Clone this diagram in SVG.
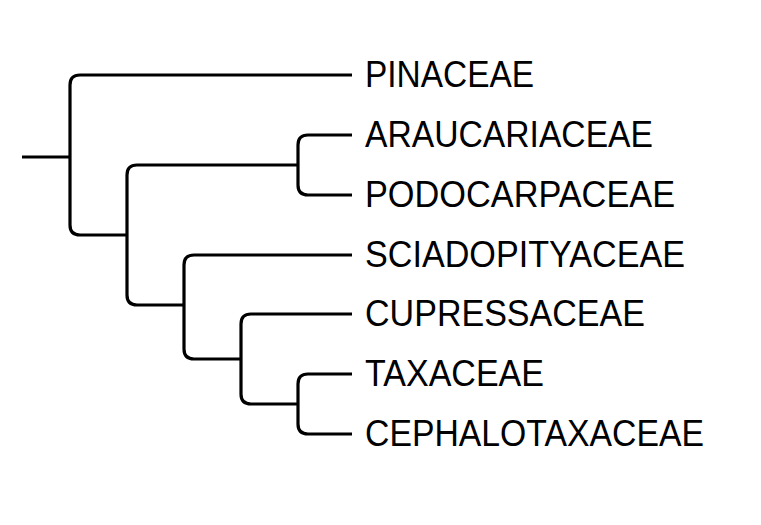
<svg xmlns="http://www.w3.org/2000/svg" width="761" height="525" viewBox="0 0 761 525">
<style>
.e{fill:none;stroke:#000;stroke-width:3.2;stroke-linecap:butt;stroke-linejoin:round}
.t{font-family:"Liberation Sans",Arial,sans-serif;font-size:36px;fill:#000}
</style>
<rect width="761" height="525" fill="#fff"/>
<g id="connectors">
<path class="e" d="M22 157H70"/>
<path class="e" d="M352 75H80Q70 75 70 85V225Q70 235 80 235H127"/>
<path class="e" d="M298 165H137Q127 165 127 175V295Q127 305 137 305H184"/>
<path class="e" d="M352 135H308Q298 135 298 145V185Q298 195 308 195H352"/>
<path class="e" d="M352 255H194Q184 255 184 265V349Q184 359 194 359H241"/>
<path class="e" d="M352 314H251Q241 314 241 324V394Q241 404 251 404H298"/>
<path class="e" d="M352 374H308Q298 374 298 384V424Q298 434 308 434H352"/>
</g>
<g id="pinaceae"><text class="t" x="365" y="86.5" textLength="169" lengthAdjust="spacingAndGlyphs">PINACEAE</text></g>
<g id="araucariaceae"><text class="t" x="365" y="146.5" textLength="288" lengthAdjust="spacingAndGlyphs">ARAUCARIACEAE</text></g>
<g id="podocarpaceae"><text class="t" x="365" y="206.5" textLength="310" lengthAdjust="spacingAndGlyphs">PODOCARPACEAE</text></g>
<g id="sciadopityaceae"><text class="t" x="365" y="266.5" textLength="320" lengthAdjust="spacingAndGlyphs">SCIADOPITYACEAE</text></g>
<g id="cupressaceae"><text class="t" x="365" y="326" textLength="280" lengthAdjust="spacingAndGlyphs">CUPRESSACEAE</text></g>
<g id="taxaceae"><text class="t" x="365" y="386" textLength="179" lengthAdjust="spacingAndGlyphs">TAXACEAE</text></g>
<g id="cephalotaxaceae"><text class="t" x="365" y="446" textLength="339" lengthAdjust="spacingAndGlyphs">CEPHALOTAXACEAE</text></g>
</svg>
